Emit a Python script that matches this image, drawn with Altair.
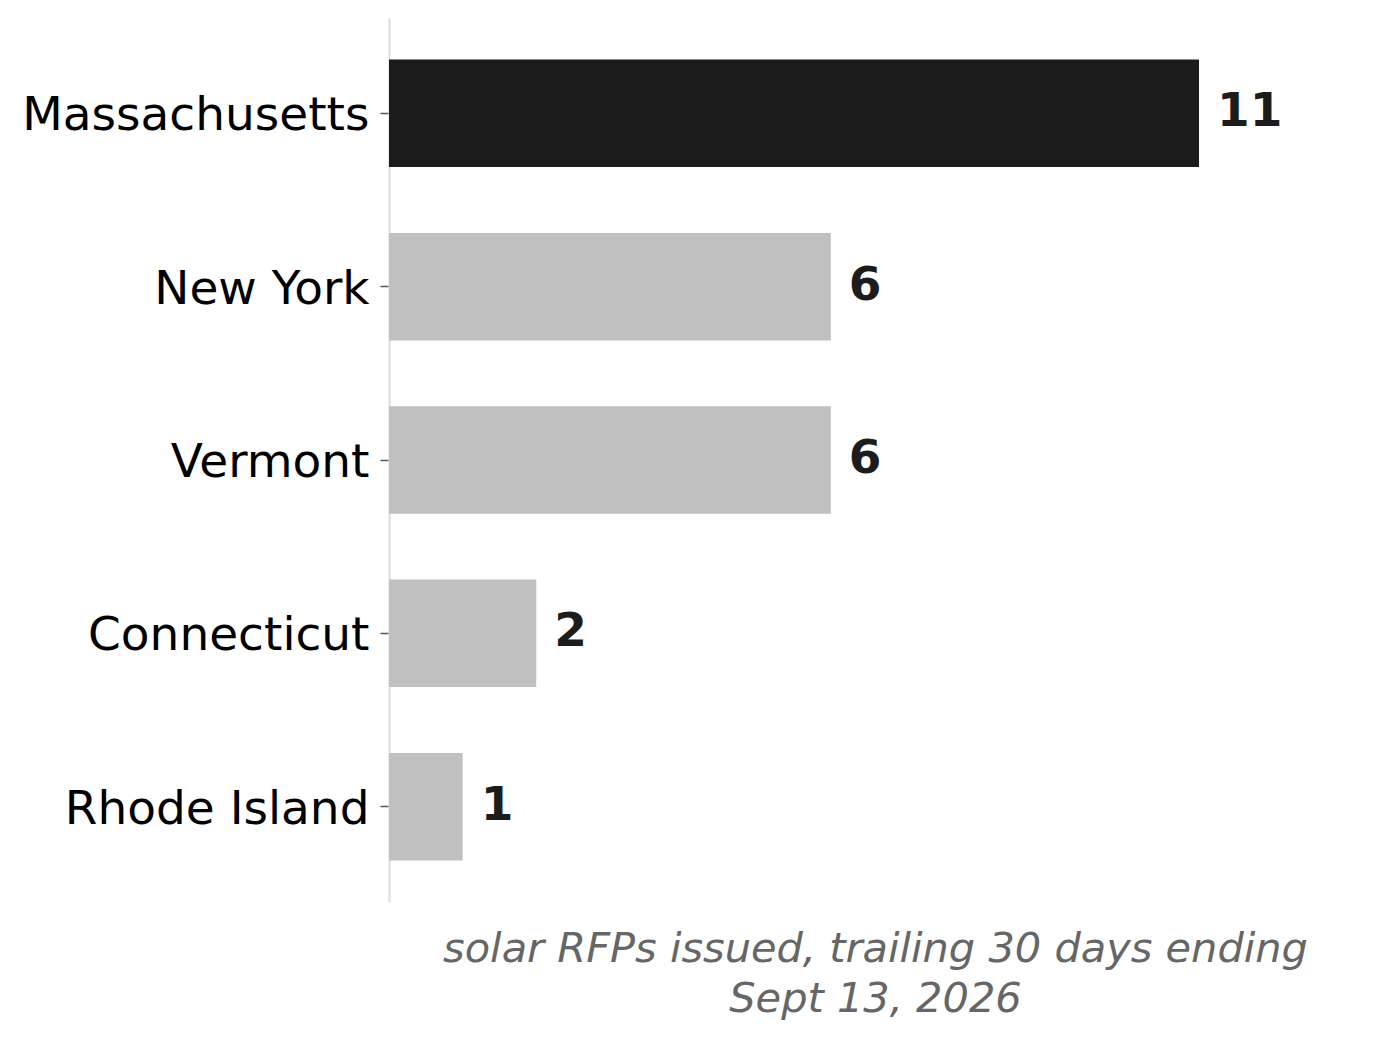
import altair as alt
import pandas as pd

states = ["Massachusetts", "New York", "Vermont", "Connecticut", "Rhode Island"]
counts = [11, 6, 6, 2, 1]
colors = ["#1c1c1c", "#c0c0c0", "#c0c0c0", "#c0c0c0", "#c0c0c0"]
title_lines = ["solar RFPs issued, trailing 30 days ending", "Sept 13, 2026"]

df = pd.DataFrame({"state": states, "count": counts, "color": colors})

FONT = "DejaVu Sans"

y_enc = alt.Y(
    "state:N",
    sort=states,
    scale=alt.Scale(paddingInner=0.38, paddingOuter=0.24),
    axis=alt.Axis(
        title=None,
        labelFont=FONT,
        labelFontSize=47,
        labelColor="#000000",
        labelPadding=11,
        labelOffset=3,
        tickColor="#555555",
        tickSize=9,
        tickWidth=1.5,
        domainColor="#dddddd",
        domainWidth=2,
        grid=False,
        labelLimit=600,
    ),
)

x_enc = alt.X(
    "count:Q",
    scale=alt.Scale(domain=[0, 13.2], nice=False),
    axis=alt.Axis(
        title=title_lines,
        labels=False,
        ticks=False,
        domain=False,
        grid=False,
        titleFont=FONT,
        titleFontSize=41.5,
        titleFontStyle="italic",
        titleFontWeight="normal",
        titleColor="#666666",
        titlePadding=26,
        titleLineHeight=50,
    ),
)

bars = alt.Chart(df).mark_bar().encode(
    x=x_enc,
    y=y_enc,
    color=alt.Color("color:N", scale=None),
)

labels = alt.Chart(df).mark_text(
    align="left",
    baseline="middle",
    dx=18,
    dy=-1,
    font=FONT,
    fontSize=47,
    fontWeight="bold",
    color="#1c1c1c",
).encode(
    x="count:Q",
    y=alt.Y("state:N", sort=states),
    text="count:Q",
)

chart = (
    (bars + labels)
    .properties(width=972, height=884, background="white", padding={"left": 13, "top": 10, "right": 5, "bottom": 5})
    .configure_view(stroke=None)
)

chart.save("out.html", embed_options={"renderer": "svg", "actions": False})
